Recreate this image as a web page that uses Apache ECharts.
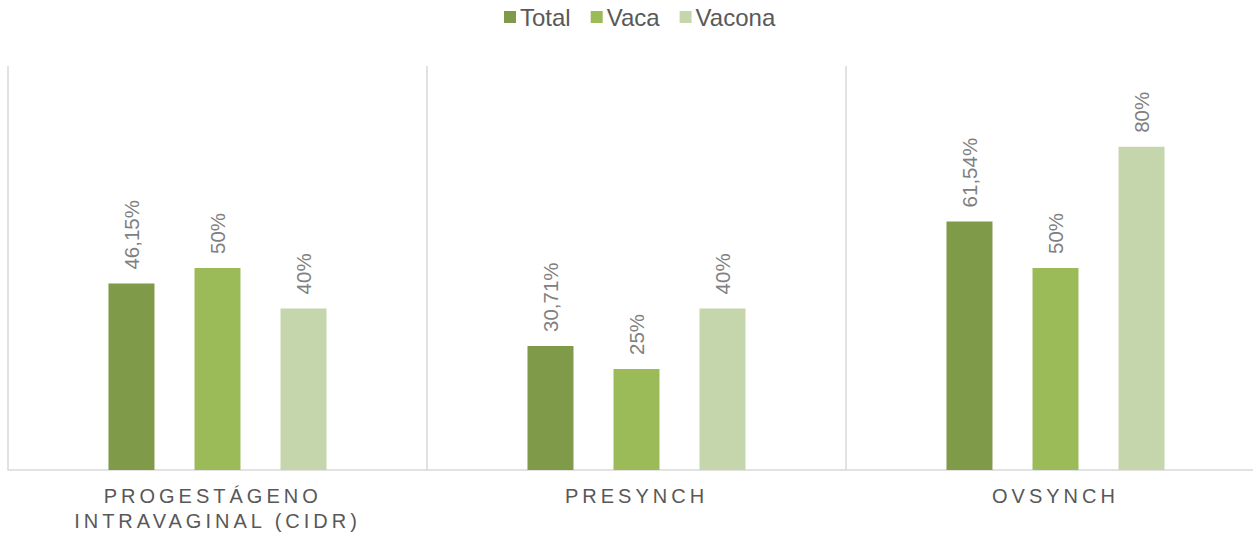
<!DOCTYPE html>
<html>
<head>
<meta charset="utf-8">
<script src="https://cdn.jsdelivr.net/npm/echarts@6/dist/echarts.min.js"></script>
<style>
    html, body { margin: 0; padding: 0; background: #fff; }
    #chart { width: 1253px; height: 535px; }
    /* espaciado de letras de las etiquetas del eje X */
    text[fill="#585858"] { letter-spacing: 4px; }
</style>
</head>
<body>
<div id="chart"></div>
<script>
// datos
const categorias = ['PROGESTÁGENO INTRAVAGINAL (CIDR)', 'PRESYNCH', 'OVSYNCH'];
const total = [46.15, 30.71, 61.54];
const vaca = [50, 25, 50];
const vacona = [40, 40, 80];

// formato de etiqueta: coma decimal
function fmt(p) {
    return String(p.value).replace('.', ',') + '%';
}

const etiqueta = {
    show: true,
    position: 'top',
    rotate: 90,
    align: 'left',
    verticalAlign: 'middle',
    distance: 14,
    color: '#808080',
    fontSize: 20.5,
    fontFamily: 'Arial, "Liberation Sans", sans-serif',
    formatter: fmt
};

const chart = echarts.init(document.getElementById('chart'), null, { renderer: 'svg' });
chart.setOption({
    animation: false,
    color: ['#7f9a48', '#9bbb59', '#c6d6ac'],
    legend: {
        left: 499,
        top: 0,
        icon: 'rect',
        itemWidth: 12,
        itemHeight: 12,
        itemGap: 20,
        textStyle: {
            color: '#595959',
            fontSize: 24,
            fontFamily: 'Arial, "Liberation Sans", sans-serif',
            padding: [0, 0, 0, -1]
        },
        data: ['Total', 'Vaca', 'Vacona']
    },
    grid: {
        left: 8,
        right: -12,
        top: 66,
        bottom: 65,
        containLabel: false,
        outerBoundsMode: 'none'
    },
    xAxis: {
        type: 'category',
        data: categorias,
        axisLine: { lineStyle: { color: '#d9d9d9', width: 1.5 } },
        axisTick: { show: false },
        splitLine: { show: true, lineStyle: { color: '#d9d9d9', width: 1.5 } },
        axisLabel: {
            color: '#585858',
            fontSize: 20,
            fontFamily: 'Arial, "Liberation Sans", sans-serif',
            lineHeight: 25,
            margin: 13,
            width: 230,
            overflow: 'break',
            interval: 0
        }
    },
    yAxis: {
        type: 'value',
        min: 0,
        max: 100,
        show: false,
        splitLine: { show: false }
    },
    series: [
        { name: 'Total', type: 'bar', data: total, barWidth: 46, barGap: '87%', label: etiqueta },
        { name: 'Vaca', type: 'bar', data: vaca, barWidth: 46, barGap: '87%', label: etiqueta },
        { name: 'Vacona', type: 'bar', data: vacona, barWidth: 46, barGap: '87%', label: etiqueta }
    ]
});

window.addEventListener('resize', function() {
    chart.resize();
});
</script>
</body>
</html>
